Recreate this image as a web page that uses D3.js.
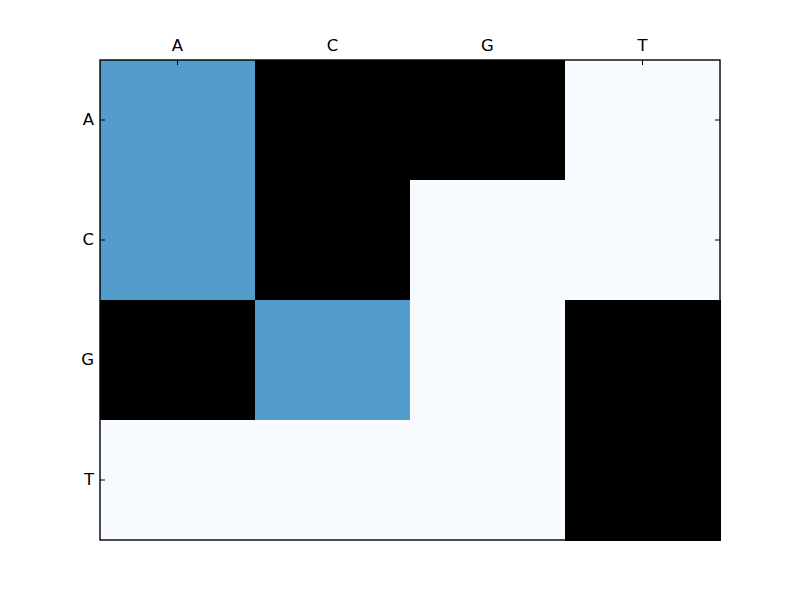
<!DOCTYPE html>
<html><head><meta charset="utf-8">
<script src="https://cdn.jsdelivr.net/npm/d3@7"></script>
<style>body{margin:0;background:#fff}svg{display:block}text{font-family:"DejaVu Sans",sans-serif}</style>
</head><body><svg id="c" width="800" height="600"></svg>
<script>
const cols = ["A","C","G","T"];
const rows = ["A","C","G","T"];
// null = masked (drawn black)
const valuesA = [1, null, null, 0];
const valuesC = [1, null, 0, 0];
const valuesG = [null, 1, 0, null];
const valuesT = [0, 0, 0, null];
const matrix = [valuesA, valuesC, valuesG, valuesT];

const svg = d3.select("#c");
const m = {left:100, top:60, right:720, bottom:540};
const x = d3.scaleBand().domain(cols).range([m.left, m.right]);
const y = d3.scaleBand().domain(rows).range([m.top, m.bottom]);
const color = d3.scaleLinear().domain([0,1]).range(["#f7fbff","#529dcc"]);

const cells = [];
matrix.forEach((r,i)=>r.forEach((v,j)=>cells.push({row:rows[i], col:cols[j], v})));
svg.append("g").selectAll("rect").data(cells).join("rect")
  .attr("x", d=>x(d.col)).attr("y", d=>y(d.row))
  .attr("width", x.bandwidth()+0.5).attr("height", y.bandwidth()+0.5)
  .attr("fill", d=>d.v==null ? "#000" : color(d.v))
  .attr("shape-rendering","crispEdges");

// frame
svg.append("rect").attr("x",m.left).attr("y",m.top)
  .attr("width",m.right-m.left).attr("height",m.bottom-m.top)
  .attr("fill","none").attr("stroke","#000").attr("stroke-width",1.4);

const fs = "16.5px";
// top axis: ticks inside
const xt = svg.append("g").attr("transform",`translate(0,${m.top})`)
  .call(d3.axisTop(x).tickSizeInner(-5).tickSizeOuter(0).tickPadding(9));
xt.select(".domain").remove();
xt.selectAll("line").attr("stroke","#000");
xt.selectAll("text").style("font-size",fs).attr("fill","#000");

// left axis
const yl = svg.append("g").attr("transform",`translate(${m.left},0)`)
  .call(d3.axisLeft(y).tickSizeInner(-5).tickSizeOuter(0).tickPadding(6));
yl.select(".domain").remove();
yl.selectAll("line").attr("stroke","#000");
yl.selectAll("text").style("font-size",fs).attr("fill","#000");

// right ticks
const yr = svg.append("g").attr("transform",`translate(${m.right},0)`)
  .call(d3.axisRight(y).tickSizeInner(-5).tickSizeOuter(0).tickFormat(""));
yr.select(".domain").remove();
yr.selectAll("line").attr("stroke","#000");
</script></body></html>
